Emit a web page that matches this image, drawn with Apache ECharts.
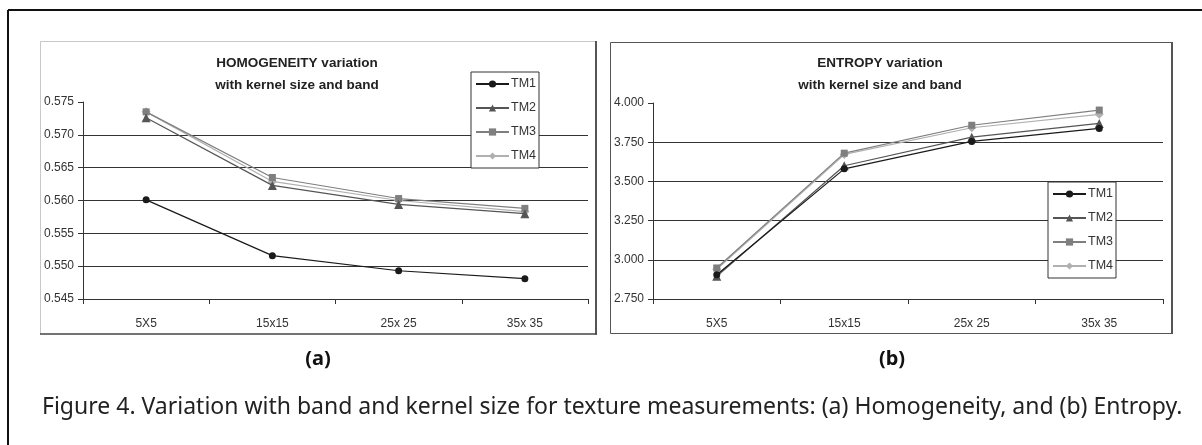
<!DOCTYPE html>
<html>
<head>
<meta charset="utf-8">
<script src="https://cdn.jsdelivr.net/npm/echarts@6/dist/echarts.min.js"></script>
<style>
html,body{margin:0;padding:0;background:#fff;}
#c{width:1202px;height:445px;}
</style>
</head>
<body>
<div id="c"></div>
<script>
const categories = ['5X5', '15x15', '25x 25', '35x 35'];
const seriesNames = ['TM1', 'TM2', 'TM3', 'TM4'];

const homTM1 = [0.5601, 0.5516, 0.5493, 0.5481];
const homTM2 = [0.5726, 0.5623, 0.5594, 0.5580];
const homTM3 = [0.5735, 0.5635, 0.5603, 0.5588];
const homTM4 = [0.5735, 0.5629, 0.5600, 0.5583];

const entTM1 = [2.905, 3.580, 3.755, 3.838];
const entTM2 = [2.895, 3.600, 3.782, 3.870];
const entTM3 = [2.948, 3.680, 3.858, 3.955];
const entTM4 = [2.940, 3.672, 3.842, 3.928];

const homTicks = [0.545, 0.550, 0.555, 0.560, 0.565, 0.570, 0.575];
const entTicks = [2.750, 3.000, 3.250, 3.500, 3.750, 4.000];

const titleA = 'HOMOGENEITY variation\nwith kernel size and band';
const titleB = 'ENTROPY variation\nwith kernel size and band';
const labelA = '(a)';
const labelB = '(b)';
const caption = 'Figure 4. Variation with band and kernel size for texture measurements: (a) Homogeneity, and (b) Entropy.';

const colors = ['#1a1a1a', '#555555', '#7f7f7f', '#b0b0b0'];
const symbols = ['circle', 'triangle', 'rect', 'diamond'];

const chart = echarts.init(document.getElementById('c'), null, {renderer: 'canvas'});

function mkSeries(datas, axisIdx) {
  return datas.map((d, i) => ({
    name: seriesNames[i],
    type: 'line',
    xAxisIndex: axisIdx,
    yAxisIndex: axisIdx,
    data: d,
    symbol: symbols[i],
    symbolSize: i === 1 ? 9 : (i === 3 ? 9 : 7),
    showAllSymbol: true,
    lineStyle: {color: colors[i], width: 1.2},
    itemStyle: {color: colors[i], borderWidth: 0},
    emphasis: {disabled: true},
    animation: false,
    z: 10 - i
  }));
}

const axisFont = {fontFamily: 'Liberation Sans, Arial, sans-serif', fontSize: 12, color: '#333'};

function xAx(gi) {
  return {
    type: 'category', gridIndex: gi, data: categories, boundaryGap: true,
    axisLine: {lineStyle: {color: '#333', width: 1}},
    axisTick: {show: true, length: 5, inside: false, lineStyle: {color: '#333'}},
    axisLabel: Object.assign({margin: 19}, axisFont),
    splitLine: {show: false}
  };
}
function yAx(gi, ticks, dec) {
  const min = ticks[0], max = ticks[ticks.length - 1];
  return {
    type: 'value', gridIndex: gi, min: min, max: max,
    interval: ticks[1] - ticks[0],
    axisLine: {show: true, lineStyle: {color: '#333', width: 1}},
    axisTick: {show: true, length: 5, lineStyle: {color: '#333'}},
    axisLabel: Object.assign({margin: 9, formatter: v => v.toFixed(dec)}, axisFont),
    splitLine: {show: true, showMinLine: false, showMaxLine: false, lineStyle: {color: '#333', width: 1}}
  };
}

function mkLegend(left, top) {
  return {
    data: seriesNames, orient: 'vertical', left: left, top: top,
    itemWidth: 33, itemHeight: 9, itemGap: 10,
    padding: [5, 3, 5, 4],
    backgroundColor: '#fff', borderColor: '#333', borderWidth: 1,
    textStyle: {fontFamily: 'Liberation Sans, Arial, sans-serif', fontSize: 12.5, color: '#333', lineHeight: 14, padding: [0, 0, 0, -3]},
    selectedMode: false
  };
}

const option = {
  backgroundColor: '#fff',
  animation: false,
  grid: [
    {left: 83, right: 614, top: 102, bottom: 146, containLabel: false},
    {left: 653, right: 39, top: 103, bottom: 146, containLabel: false}
  ],
  xAxis: [xAx(0), xAx(1)],
  yAxis: [yAx(0, homTicks, 3), yAx(1, entTicks, 3)],
  legend: [mkLegend(471, 72), mkLegend(1048, 182)],
  graphic: [
    // outer frame
    {type: 'line', shape: {x1: 8, y1: 10, x2: 1202, y2: 10}, style: {stroke: '#111', lineWidth: 2}},
    {type: 'line', shape: {x1: 8, y1: 10, x2: 8, y2: 445}, style: {stroke: '#111', lineWidth: 2}},
    // panel a box
    {type: 'line', shape: {x1: 40.5, y1: 41.5, x2: 596, y2: 41.5}, style: {stroke: '#c8c8c8', lineWidth: 1}},
    {type: 'line', shape: {x1: 40.5, y1: 41.5, x2: 40.5, y2: 334}, style: {stroke: '#c8c8c8', lineWidth: 1}},
    {type: 'line', shape: {x1: 596, y1: 41, x2: 596, y2: 334.5}, style: {stroke: '#555', lineWidth: 2}},
    {type: 'line', shape: {x1: 40, y1: 334, x2: 597, y2: 334}, style: {stroke: '#444', lineWidth: 1.5}},
    // panel b box
    {type: 'rect', shape: {x: 610.5, y: 42.5, width: 561, height: 291}, style: {fill: 'none', stroke: '#555', lineWidth: 1}},
    {type: 'line', shape: {x1: 1172, y1: 42, x2: 1172, y2: 334}, style: {stroke: '#555', lineWidth: 2}},
    // titles
    {type: 'text', x: 297, y: 74, style: {text: titleA, align: 'center', verticalAlign: 'middle', lineHeight: 22,
      font: 'bold 13.5px "Liberation Sans", Arial, sans-serif', fill: '#222'}},
    {type: 'text', x: 880, y: 74, style: {text: titleB, align: 'center', verticalAlign: 'middle', lineHeight: 22,
      font: 'bold 13.5px "Liberation Sans", Arial, sans-serif', fill: '#222'}},
    // panel labels
    {type: 'text', x: 318, y: 359, style: {text: labelA, align: 'center', verticalAlign: 'middle',
      font: 'bold 20px "Noto Sans", "Liberation Sans", sans-serif', fill: '#111'}},
    {type: 'text', x: 892, y: 359, style: {text: labelB, align: 'center', verticalAlign: 'middle',
      font: 'bold 20px "Noto Sans", "Liberation Sans", sans-serif', fill: '#111'}},
    // caption
    {type: 'text', x: 42, y: 407, style: {text: caption, align: 'left', verticalAlign: 'middle',
      font: '23px "Noto Sans", sans-serif', fill: '#222'}}
  ],
  series: mkSeries([homTM1, homTM2, homTM3, homTM4], 0).concat(mkSeries([entTM1, entTM2, entTM3, entTM4], 1))
};
chart.setOption(option);
</script>
</body>
</html>
